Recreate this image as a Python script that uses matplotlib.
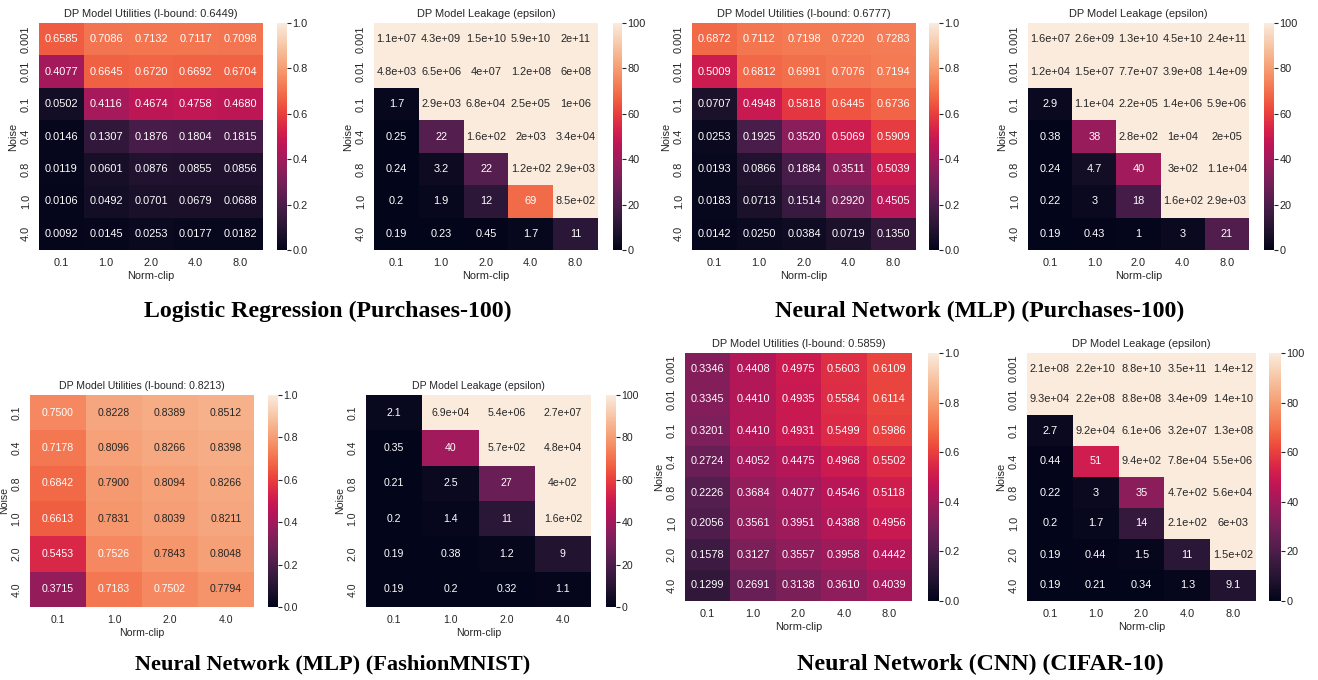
import numpy as np
import matplotlib
matplotlib.use("Agg")
import matplotlib.pyplot as plt
import seaborn as sns

sns.set_theme(style="ticks")
plt.rcParams['font.family'] = ['Liberation Sans', 'DejaVu Sans']

# Данi: Logistic Regression (Purchases-100)
lr_noise = ["0.001", "0.01", "0.1", "0.4", "0.8", "1.0", "4.0"]
lr_clip = ["0.1", "1.0", "2.0", "4.0", "8.0"]
lr_util = [[0.6585, 0.7086, 0.7132, 0.7117, 0.7098],
           [0.4077, 0.6645, 0.6720, 0.6692, 0.6704],
           [0.0502, 0.4116, 0.4674, 0.4758, 0.4680],
           [0.0146, 0.1307, 0.1876, 0.1804, 0.1815],
           [0.0119, 0.0601, 0.0876, 0.0855, 0.0856],
           [0.0106, 0.0492, 0.0701, 0.0679, 0.0688],
           [0.0092, 0.0145, 0.0253, 0.0177, 0.0182]]
lr_leak = [[1.1e7, 4.3e9, 1.5e10, 5.9e10, 2e11],
           [4.8e3, 6.5e6, 4e7, 1.2e8, 6e8],
           [1.7, 2.9e3, 6.8e4, 2.5e5, 1e6],
           [0.25, 22, 1.6e2, 2e3, 3.4e4],
           [0.24, 3.2, 22, 1.2e2, 2.9e3],
           [0.2, 1.9, 12, 69, 8.5e2],
           [0.19, 0.23, 0.45, 1.7, 11]]
lr_bound = 0.6449

# MLP (Purchases-100)
mlp_noise = ["0.001", "0.01", "0.1", "0.4", "0.8", "1.0", "4.0"]
mlp_clip = ["0.1", "1.0", "2.0", "4.0", "8.0"]
mlp_util = [[0.6872, 0.7112, 0.7198, 0.7220, 0.7283],
            [0.5009, 0.6812, 0.6991, 0.7076, 0.7194],
            [0.0707, 0.4948, 0.5818, 0.6445, 0.6736],
            [0.0253, 0.1925, 0.3520, 0.5069, 0.5909],
            [0.0193, 0.0866, 0.1884, 0.3511, 0.5039],
            [0.0183, 0.0713, 0.1514, 0.2920, 0.4505],
            [0.0142, 0.0250, 0.0384, 0.0719, 0.1350]]
mlp_leak = [[1.6e7, 2.6e9, 1.3e10, 4.5e10, 2.4e11],
            [1.2e4, 1.5e7, 7.7e7, 3.9e8, 1.4e9],
            [2.9, 1.1e4, 2.2e5, 1.4e6, 5.9e6],
            [0.38, 38, 2.8e2, 1e4, 2e5],
            [0.24, 4.7, 40, 3e2, 1.1e4],
            [0.22, 3, 18, 1.6e2, 2.9e3],
            [0.19, 0.43, 1, 3, 21]]
mlp_bound = 0.6777

# MLP (FashionMNIST)
fm_noise = ["0.1", "0.4", "0.8", "1.0", "2.0", "4.0"]
fm_clip = ["0.1", "1.0", "2.0", "4.0"]
fm_util = [[0.7500, 0.8228, 0.8389, 0.8512],
           [0.7178, 0.8096, 0.8266, 0.8398],
           [0.6842, 0.7900, 0.8094, 0.8266],
           [0.6613, 0.7831, 0.8039, 0.8211],
           [0.5453, 0.7526, 0.7843, 0.8048],
           [0.3715, 0.7183, 0.7502, 0.7794]]
fm_leak = [[2.1, 6.9e4, 5.4e6, 2.7e7],
           [0.35, 40, 5.7e2, 4.8e4],
           [0.21, 2.5, 27, 4e2],
           [0.2, 1.4, 11, 1.6e2],
           [0.19, 0.38, 1.2, 9],
           [0.19, 0.2, 0.32, 1.1]]
fm_bound = 0.8213

# CNN (CIFAR-10)
cf_noise = ["0.001", "0.01", "0.1", "0.4", "0.8", "1.0", "2.0", "4.0"]
cf_clip = ["0.1", "1.0", "2.0", "4.0", "8.0"]
cf_util = [[0.3346, 0.4408, 0.4975, 0.5603, 0.6109],
           [0.3345, 0.4410, 0.4935, 0.5584, 0.6114],
           [0.3201, 0.4410, 0.4931, 0.5499, 0.5986],
           [0.2724, 0.4052, 0.4475, 0.4968, 0.5502],
           [0.2226, 0.3684, 0.4077, 0.4546, 0.5118],
           [0.2056, 0.3561, 0.3951, 0.4388, 0.4956],
           [0.1578, 0.3127, 0.3557, 0.3958, 0.4442],
           [0.1299, 0.2691, 0.3138, 0.3610, 0.4039]]
cf_leak = [[2.1e8, 2.2e10, 8.8e10, 3.5e11, 1.4e12],
           [9.3e4, 2.2e8, 8.8e8, 3.4e9, 1.4e10],
           [2.7, 9.2e4, 6.1e6, 3.2e7, 1.3e8],
           [0.44, 51, 9.4e2, 7.8e4, 5.5e6],
           [0.22, 3, 35, 4.7e2, 5.6e4],
           [0.2, 1.7, 14, 2.1e2, 6e3],
           [0.19, 0.44, 1.5, 11, 1.5e2],
           [0.19, 0.21, 0.34, 1.3, 9.1]]
cf_bound = 0.5859

W, H = 1318, 680
FS = 7.9
fig = plt.figure(figsize=(W / 100, H / 100), dpi=100)


def box(l, t, r, b):
    return fig.add_axes([l / W, 1 - b / H, (r - l) / W, (b - t) / H])


def heat(hbox, cbox, data, noise, clip, vmax, fmt, title, fs=FS):
    ax = box(*hbox)
    cax = box(*cbox)
    sns.heatmap(np.array(data), ax=ax, cbar_ax=cax, vmin=0, vmax=vmax,
                annot=True, fmt=fmt, annot_kws={'size': fs},
                xticklabels=clip, yticklabels=noise)
    ax.set_title(title, fontsize=fs, pad=4)
    ax.set_xlabel("Norm-clip", fontsize=fs, labelpad=2)
    ax.set_ylabel("Noise", fontsize=fs, labelpad=2)
    ax.tick_params(length=0, labelsize=fs, pad=6)
    plt.setp(ax.get_yticklabels(), rotation=90, va='center')
    plt.setp(ax.get_xticklabels(), rotation=0)
    cax.tick_params(length=3, width=0.8, labelsize=fs, pad=1)


def caption(x, y, s, size=17.2):
    fig.text(x / W, 1 - y / H, s, ha='center', va='center',
             family='Liberation Serif', weight='bold', fontsize=size, color='black')


# верх-лiво
heat((39, 23, 263, 250), (277, 23, 287, 250), lr_util, lr_noise, lr_clip, 1,
     ".4f", f"DP Model Utilities (l-bound: {lr_bound:.4f})")
heat((374, 23, 598, 250), (613, 23, 622, 250), lr_leak, lr_noise, lr_clip, 100,
     ".2g", "DP Model Leakage (epsilon)")
caption(328, 311, "Logistic Regression (Purchases-100)")

# верх-право
heat((692, 23, 916, 250), (929, 23, 939, 250), mlp_util, mlp_noise, mlp_clip, 1,
     ".4f", f"DP Model Utilities (l-bound: {mlp_bound:.4f})")
heat((1028, 23, 1249, 250), (1264, 23, 1274, 250), mlp_leak, mlp_noise, mlp_clip, 100,
     ".2g", "DP Model Leakage (epsilon)")
caption(980, 311, "Neural Network (MLP) (Purchases-100)")

# низ-лiво
heat((30, 395, 254, 607), (268, 395, 278, 607), fm_util, fm_noise, fm_clip, 1,
     ".4f", f"DP Model Utilities (l-bound: {fm_bound:.4f})", fs=7.6)
heat((366, 395, 591, 607), (606, 395, 616, 607), fm_leak, fm_noise, fm_clip, 100,
     ".2g", "DP Model Leakage (epsilon)", fs=7.6)
caption(333, 664, "Neural Network (MLP) (FashionMNIST)", size=16.1)

# низ-право
heat((685, 353, 912, 601), (928, 353, 939, 601), cf_util, cf_noise, cf_clip, 1,
     ".4f", f"DP Model Utilities (l-bound: {cf_bound:.4f})")
heat((1027, 353, 1256, 601), (1269, 353, 1281, 601), cf_leak, cf_noise, cf_clip, 100,
     ".2g", "DP Model Leakage (epsilon)")
caption(980, 664, "Neural Network (CNN) (CIFAR-10)")

fig.savefig("out.png", dpi=100)
